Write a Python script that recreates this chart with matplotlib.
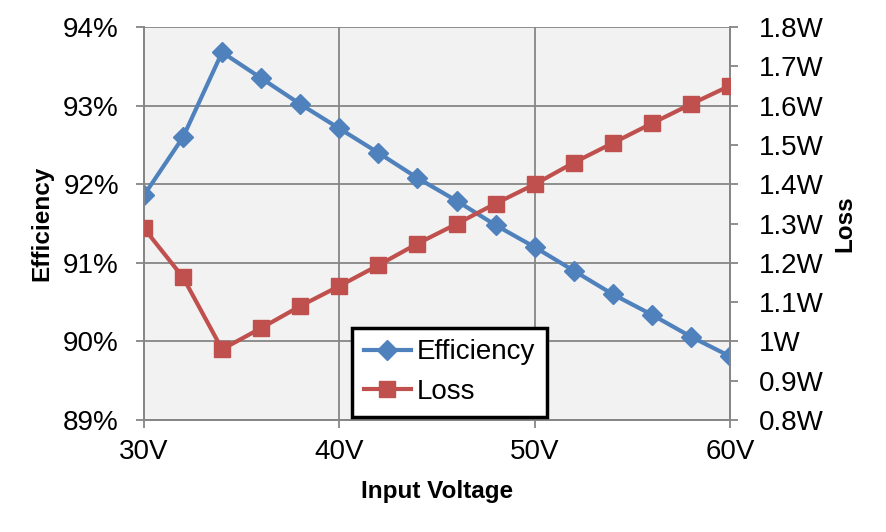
import matplotlib
matplotlib.use('Agg')
import matplotlib.pyplot as plt
from matplotlib.lines import Line2D

plt.rcParams['font.family'] = ['Liberation Sans', 'DejaVu Sans']

# datos
voltaje = [30, 32, 34, 36, 38, 40, 42, 44, 46, 48, 50, 52, 54, 56, 58, 60]
eficiencia = [91.86, 92.60, 93.68, 93.35, 93.02, 92.71, 92.40, 92.08,
              91.79, 91.48, 91.20, 90.90, 90.60, 90.34, 90.06, 89.81]
perdida = [1.288, 1.163, 0.980, 1.034, 1.090, 1.141, 1.194, 1.249,
           1.299, 1.351, 1.400, 1.455, 1.505, 1.555, 1.604, 1.651]

x_ticks = [30, 40, 50, 60]
x_labels = ['30V', '40V', '50V', '60V']
ef_ticks = [89, 90, 91, 92, 93, 94]
ef_labels = ['89%', '90%', '91%', '92%', '93%', '94%']
loss_ticks = [0.8, 0.9, 1.0, 1.1, 1.2, 1.3, 1.4, 1.5, 1.6, 1.7, 1.8]
loss_labels = ['0.8W', '0.9W', '1W', '1.1W', '1.2W', '1.3W', '1.4W',
               '1.5W', '1.6W', '1.7W', '1.8W']

azul = '#4f81bd'
rojo = '#c0504d'
gris = '#868686'

fig = plt.figure(figsize=(8.86, 5.32), dpi=100)
ax = fig.add_axes([0.1625, 0.2105, 0.6615, 0.7385])
ax2 = ax.twinx()

ax.set_facecolor('#f2f2f2')
ax.set_xlim(30, 60)
ax.set_ylim(89, 94)
ax2.set_ylim(0.8, 1.8)

ax.grid(True, color=gris, linewidth=1.3)
ax.set_axisbelow(True)

ax.plot(voltaje, eficiencia, '-D', color=azul, linewidth=3, markersize=10, zorder=3)
ax2.plot(voltaje, perdida, '-s', color=rojo, linewidth=3, markersize=11.5, zorder=3)

ax.set_xticks(x_ticks)
ax.set_xticklabels(x_labels)
ax.set_yticks(ef_ticks)
ax.set_yticklabels(ef_labels)
ax2.set_yticks(loss_ticks)
ax2.set_yticklabels(loss_labels)

for a in (ax, ax2):
    for s in a.spines.values():
        s.set_color(gris)
        s.set_linewidth(1.3)
    a.spines['top'].set_visible(False)
    a.tick_params(labelsize=20, color=gris, width=1.3, length=6)
ax.tick_params(axis='y', pad=12)
ax2.tick_params(axis='y', pad=15)
ax.tick_params(axis='x', pad=8)

ax.set_xlabel('Input Voltage', fontsize=17.5, fontweight='bold', va='center')
ax.xaxis.set_label_coords(0.5, -0.181)
ax.set_ylabel('Efficiency', fontsize=17.5, fontweight='bold', va='center')
ax.yaxis.set_label_coords(-0.174, 0.5)
ax2.set_ylabel('Loss', fontsize=17.5, fontweight='bold', va='center')
ax2.yaxis.set_label_coords(1.196, 0.5)

h1 = Line2D([], [], color=azul, marker='D', linewidth=3, markersize=10)
h2 = Line2D([], [], color=rojo, marker='s', linewidth=3, markersize=11.5)
leg = ax2.legend([h1, h2], ['Efficiency', 'Loss'], loc='lower left',
                 bbox_to_anchor=(0.355, 0.008), fontsize=20, fancybox=False,
                 framealpha=1, edgecolor='black', handlelength=1.7,
                 handletextpad=0.2, borderpad=0.42, labelspacing=0.5,
                 borderaxespad=0)
leg.get_frame().set_linewidth(2.5)

plt.savefig('out.png', dpi=100)
